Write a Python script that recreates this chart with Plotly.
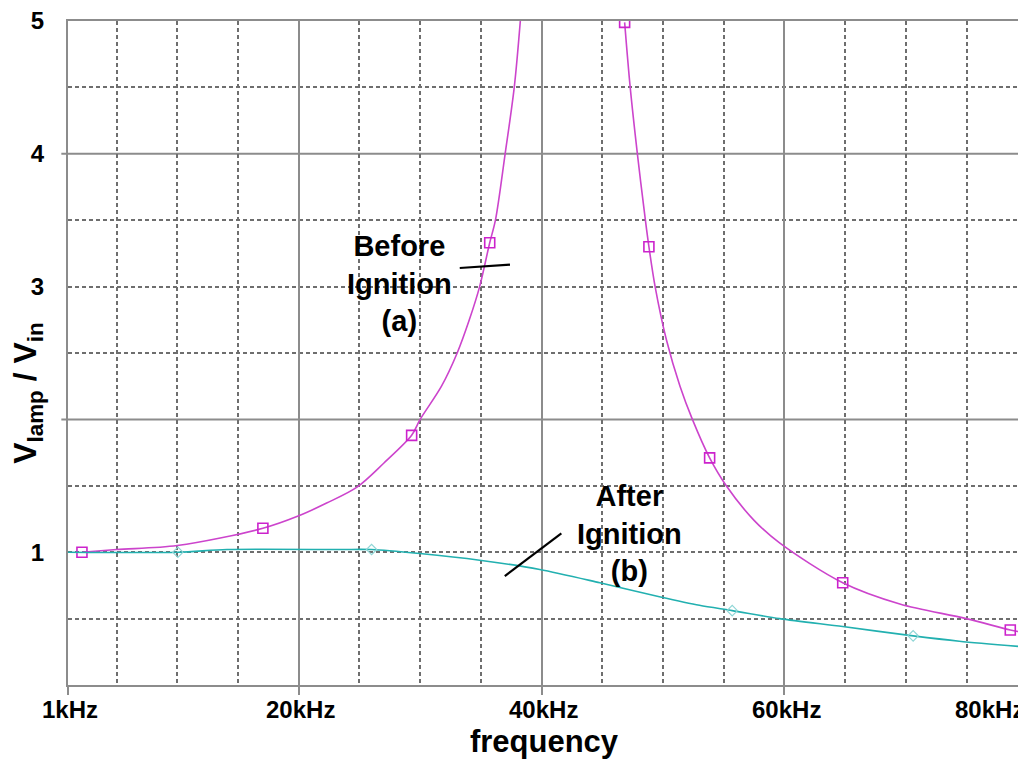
import plotly.graph_objects as go

# ---------------- data ----------------
# Before ignition (a): resonance curve, split around the clipped peak
before_f = [2.15, 5.0, 10.0, 17.05, 19.9, 22.3, 24.8, 27.0, 29.3, 30.0, 31.76, 33.05, 34.05, 34.9, 35.73, 36.2, 37.0, 37.75, 38.25,
            None,
            46.84, 47.3, 47.89, 48.55, 48.84, 49.35, 50.28, 51.4, 52.42, 53.84, 55.21, 57.5, 59.6, 64.8, 69.5, 74.97, 78.6, 79.4]
before_v = [1.00, 1.02, 1.05, 1.18, 1.27, 1.37, 1.49, 1.67, 1.88, 2.00, 2.25, 2.50, 2.75, 3.00, 3.33, 3.50, 4.00, 4.50, 5.00,
            None,
            4.99, 4.50, 4.00, 3.50, 3.30, 3.00, 2.60, 2.25, 2.00, 1.71, 1.50, 1.24, 1.07, 0.77, 0.61, 0.50, 0.414, 0.40]
before_mark_f = [2.15, 17.05, 29.3, 35.73, 46.84, 48.84, 53.84, 64.8, 78.6]
before_mark_v = [1.00, 1.18, 1.88, 3.33, 4.99, 3.30, 1.71, 0.77, 0.414]

# After ignition (b)
after_f = [1.0, 10.05, 14.1, 23.4, 26.0, 29.97, 34.9, 39.85, 44.8, 49.7, 53.0, 55.7, 59.6, 64.8, 70.6, 74.4, 79.4]
after_v = [1.00, 1.00, 1.02, 1.02, 1.02, 0.99, 0.94, 0.87, 0.77, 0.665, 0.60, 0.56, 0.50, 0.44, 0.37, 0.33, 0.29]
after_mark_f = [10.05, 26.0, 55.7, 70.6]
after_mark_v = [1.00, 1.02, 0.56, 0.37]

# axes
X_RANGE = [1, 79.4]
Y_RANGE = [0, 5]
x_major = [1, 20, 40, 60]
x_minor = [5, 10, 15, 25, 30, 35, 45, 50, 55, 65, 70, 75]
x_tick_vals = [1, 20, 40, 60, 80]
x_tick_text = ["1kHz", "20kHz", "40kHz", "60kHz", "80kHz"]
y_tick_vals = [1, 3, 4, 5]
y_tick_text = ["1", "3", "4", "5"]
y_solid = [2, 4]
y_dashed = [0.5, 1, 1.5, 2.5, 3, 3.5, 4.5]

# callouts
label_a = "Before<br>Ignition<br>(a)"
label_a_pos = (28.3, 3.02)
leader_a = [(33.26, 3.14), (37.4, 3.165)]
label_b = "After<br>Ignition<br>(b)"
label_b_pos = (47.2, 1.14)
leader_b = [(41.63, 1.142), (36.97, 0.82)]

# ---------------- styling ----------------
FONT = "Arial, 'Liberation Sans', sans-serif"
MAGENTA = "#cc44cc"
MAGENTA_MK = "#cc22cc"
CYAN = "#22b0b0"
GRID_SOLID = "#8c8c8c"
GRID_DASH = "#6e6e6e"

fig = go.Figure()

fig.add_trace(go.Scatter(x=before_f, y=before_v, mode="lines",
                         line=dict(color=MAGENTA, width=1.6, shape="spline", smoothing=0.9),
                         connectgaps=False, showlegend=False, hoverinfo="skip"))
fig.add_trace(go.Scatter(x=before_mark_f, y=before_mark_v, mode="markers",
                         marker=dict(symbol="square-open", size=10, color=MAGENTA_MK, line=dict(width=1.6)),
                         showlegend=False))
fig.add_trace(go.Scatter(x=after_f, y=after_v, mode="lines",
                         line=dict(color=CYAN, width=1.6, shape="spline", smoothing=0.8),
                         showlegend=False, hoverinfo="skip"))
fig.add_trace(go.Scatter(x=after_mark_f, y=after_mark_v, mode="markers",
                         marker=dict(symbol="diamond-open", size=8, color="#8fd6d6", line=dict(width=1.2)),
                         showlegend=False))

shapes = []
for yv in y_solid:
    shapes.append(dict(type="line", xref="paper", yref="y", x0=-0.007, x1=1, y0=yv, y1=yv,
                       line=dict(color=GRID_SOLID, width=2), layer="below"))
for (p0, p1) in [leader_a, leader_b]:
    shapes.append(dict(type="line", xref="x", yref="y", x0=p0[0], y0=p0[1], x1=p1[0], y1=p1[1],
                       line=dict(color="black", width=2.2)))

annotations = []
for v, t in zip(x_tick_vals, x_tick_text):
    inside = v <= X_RANGE[1]
    annotations.append(dict(x=min(v, X_RANGE[1]), y=0, xref="x", yref="paper",
                            text=t, showarrow=False,
                            xanchor="center" if inside else "right",
                            xshift=2 if inside else 6,
                            yanchor="top", yshift=-9,
                            font=dict(family=FONT, size=24, color="black", weight="bold")))
annotations.append(dict(x=label_a_pos[0], y=label_a_pos[1], xref="x", yref="y", text=label_a,
                        showarrow=False, align="center",
                        font=dict(family=FONT, size=29, color="black", weight="bold")))
annotations.append(dict(x=label_b_pos[0], y=label_b_pos[1], xref="x", yref="y", text=label_b,
                        showarrow=False, align="center",
                        font=dict(family=FONT, size=29, color="black", weight="bold")))
annotations.append(dict(x=-0.042, y=2.2, xref="paper", yref="y",
                        xanchor="center", yanchor="middle",
                        text="V<sub>lamp</sub> / V<sub>in</sub>", textangle=-90, showarrow=False,
                        font=dict(family=FONT, size=32, color="black", weight="bold")))

# the page body adds an 8px offset; the figure is sized so the plot lands where the reference has it
fig.update_layout(
    width=1018, height=754,
    margin=dict(l=60, r=6, t=13, b=77),
    paper_bgcolor="white", plot_bgcolor="white",
    font=dict(family=FONT, color="black"),
    shapes=shapes, annotations=annotations,
    xaxis=dict(range=X_RANGE, tickvals=x_major, showticklabels=False, automargin=False,
               ticks="outside", ticklen=8, tickwidth=2, tickcolor=GRID_SOLID,
               showgrid=True, gridcolor=GRID_SOLID, gridwidth=2,
               showline=True, linecolor=GRID_SOLID, linewidth=2, mirror=True,
               zeroline=False,
               minor=dict(tickvals=x_minor, showgrid=True, gridcolor=GRID_DASH,
                          griddash="4px,3px", gridwidth=1.5, ticks=""),
               title=dict(text="frequency", standoff=36,
                          font=dict(family=FONT, size=31, color="black", weight="bold"))),
    yaxis=dict(range=Y_RANGE, tickvals=y_tick_vals, ticktext=y_tick_text, automargin=False,
               ticks="outside", ticklen=17, tickcolor="rgba(0,0,0,0)",
               ticklabeloverflow="allow",
               tickfont=dict(family=FONT, size=24, color="black", weight="bold"),
               showgrid=False, zeroline=False,
               showline=True, linecolor=GRID_SOLID, linewidth=2, mirror=True,
               minor=dict(tickvals=y_dashed, showgrid=True, gridcolor=GRID_DASH,
                          griddash="4px,3px", gridwidth=1.5, ticks="")),
)

fig.write_html("out.html")
